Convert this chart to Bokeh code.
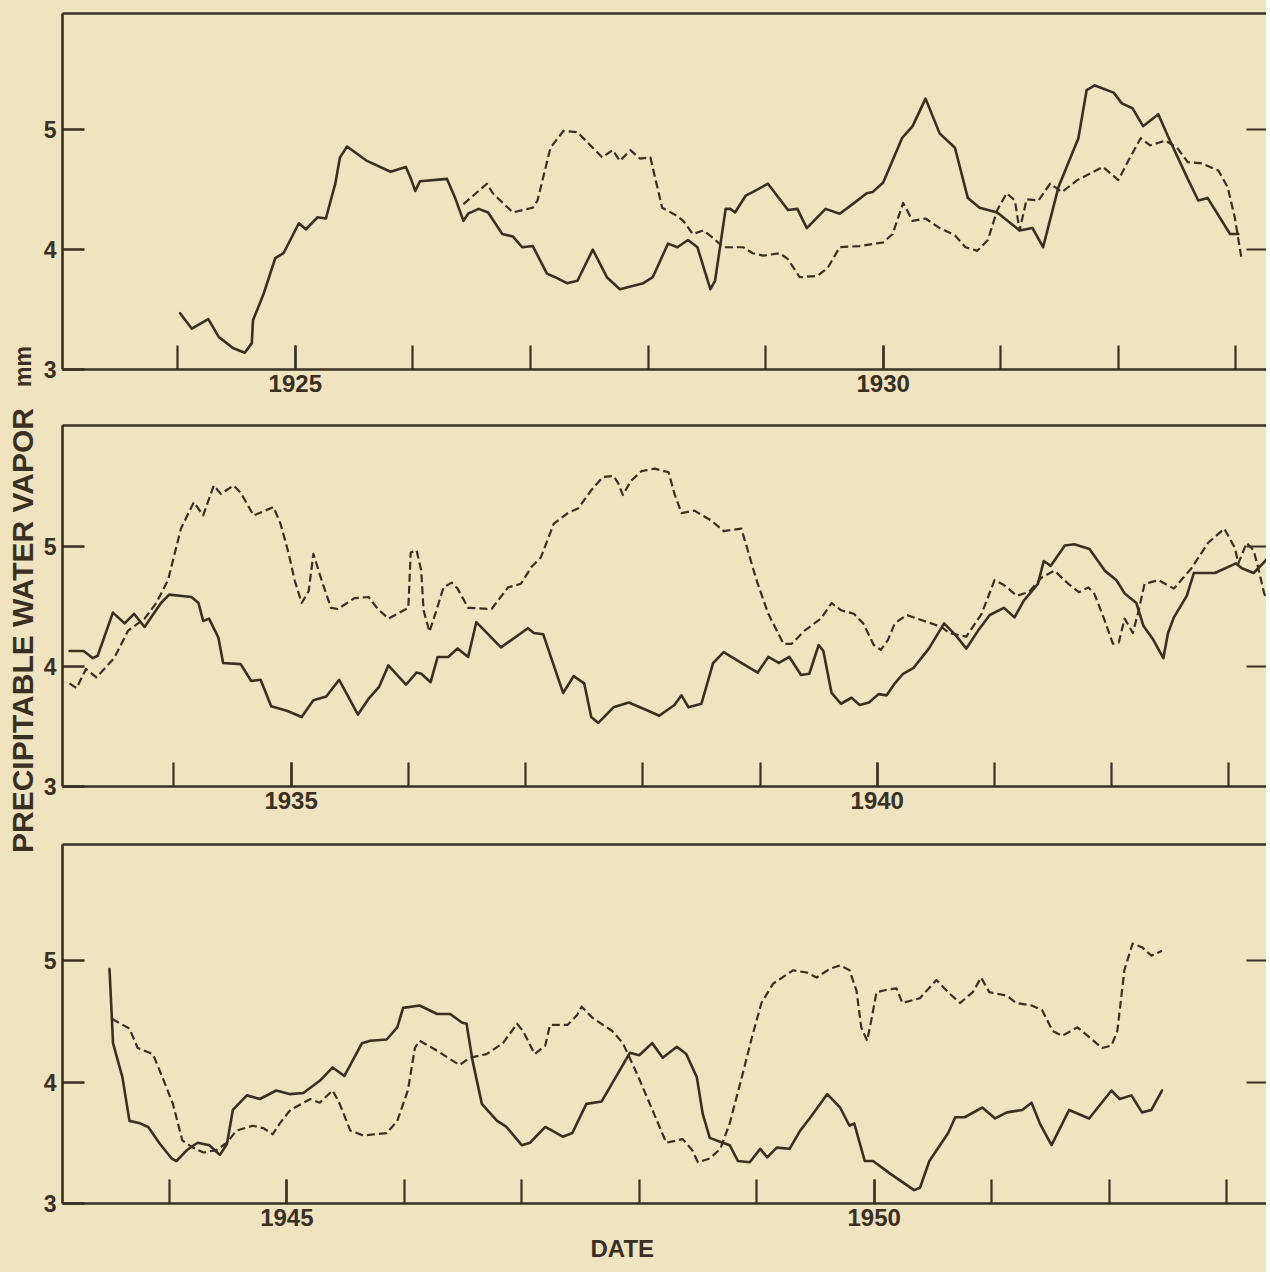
import math
from bokeh.plotting import figure
from bokeh.layouts import row, column
from bokeh.models import Range1d, FixedTicker, LinearAxis, Label, Title
from bokeh.embed import file_html
from bokeh.resources import INLINE

# ---------------- data (decimal years, precipitable water vapor in mm) ----------------
p1_solid_x = [1924.02, 1924.12, 1924.26, 1924.35, 1924.47, 1924.57, 1924.63, 1924.64, 1924.73, 1924.83,
              1924.90, 1925.03, 1925.09, 1925.19, 1925.26, 1925.34, 1925.38, 1925.44, 1925.61, 1925.81,
              1925.94, 1925.98, 1926.02, 1926.06, 1926.29, 1926.36, 1926.43, 1926.47, 1926.56, 1926.64,
              1926.76, 1926.85, 1926.93, 1927.02, 1927.14, 1927.21, 1927.31, 1927.40, 1927.53, 1927.65,
              1927.76, 1927.96, 1928.04, 1928.17, 1928.25, 1928.34, 1928.42, 1928.53, 1928.57, 1928.66,
              1928.70, 1928.74, 1928.83, 1928.89, 1929.02, 1929.19, 1929.27, 1929.35, 1929.51, 1929.63,
              1929.74, 1929.86, 1929.91, 1930.00, 1930.16, 1930.25, 1930.36, 1930.48, 1930.61, 1930.72,
              1930.82, 1930.97, 1931.16, 1931.27, 1931.36, 1931.49, 1931.66, 1931.73, 1931.80, 1931.96,
              1932.03, 1932.12, 1932.21, 1932.34, 1932.42, 1932.59, 1932.68, 1932.76, 1932.95, 1933.02]
p1_solid_y = [3.47, 3.34, 3.42, 3.27, 3.18, 3.14, 3.22, 3.41, 3.63, 3.93,
              3.97, 4.22, 4.17, 4.27, 4.26, 4.55, 4.77, 4.86, 4.74, 4.65,
              4.69, 4.60, 4.49, 4.57, 4.59, 4.43, 4.24, 4.30, 4.34, 4.31,
              4.13, 4.11, 4.02, 4.03, 3.80, 3.77, 3.72, 3.74, 4.00, 3.77,
              3.67, 3.72, 3.77, 4.05, 4.02, 4.08, 4.02, 3.67, 3.74, 4.34,
              4.34, 4.31, 4.45, 4.48, 4.55, 4.33, 4.34, 4.18, 4.34, 4.30,
              4.38, 4.47, 4.48, 4.56, 4.93, 5.03, 5.26, 4.97, 4.85, 4.43,
              4.35, 4.31, 4.16, 4.18, 4.02, 4.52, 4.93, 5.33, 5.37, 5.31,
              5.22, 5.18, 5.03, 5.13, 4.95, 4.59, 4.41, 4.43, 4.13, 4.13]

p1_dash_x = [1926.43, 1926.63, 1926.68, 1926.85, 1927.02, 1927.06, 1927.17, 1927.28, 1927.40, 1927.53,
             1927.61, 1927.70, 1927.76, 1927.85, 1927.93, 1928.02, 1928.06, 1928.12, 1928.25, 1928.30,
             1928.38, 1928.47, 1928.55, 1928.64, 1928.81, 1928.89, 1928.98, 1929.12, 1929.19, 1929.29,
             1929.44, 1929.53, 1929.63, 1929.80, 1930.00, 1930.08, 1930.17, 1930.25, 1930.36, 1930.48,
             1930.61, 1930.70, 1930.80, 1930.89, 1930.97, 1931.05, 1931.12, 1931.16, 1931.22, 1931.32,
             1931.42, 1931.52, 1931.65, 1931.87, 1932.00, 1932.10, 1932.19, 1932.27, 1932.40, 1932.50,
             1932.59, 1932.71, 1932.85, 1932.93, 1932.99, 1933.05]
p1_dash_y = [4.38, 4.55, 4.47, 4.31, 4.35, 4.41, 4.85, 4.99, 4.98, 4.85,
             4.77, 4.83, 4.74, 4.83, 4.76, 4.77, 4.60, 4.35, 4.28, 4.24,
             4.13, 4.16, 4.10, 4.02, 4.02, 3.97, 3.95, 3.97, 3.92, 3.77,
             3.78, 3.85, 4.02, 4.03, 4.06, 4.13, 4.39, 4.24, 4.26, 4.18,
             4.12, 4.02, 3.99, 4.08, 4.33, 4.47, 4.41, 4.16, 4.42, 4.41,
             4.55, 4.48, 4.58, 4.69, 4.58, 4.77, 4.93, 4.87, 4.91, 4.85,
             4.73, 4.72, 4.66, 4.52, 4.27, 3.91]

p2_solid_x = [1933.11, 1933.23, 1933.31, 1933.35, 1933.48, 1933.58, 1933.66, 1933.75, 1933.89, 1933.96,
              1934.15, 1934.21, 1934.25, 1934.30, 1934.38, 1934.42, 1934.57, 1934.66, 1934.74, 1934.83,
              1934.97, 1935.09, 1935.19, 1935.30, 1935.41, 1935.57, 1935.66, 1935.75, 1935.83, 1935.98,
              1936.07, 1936.11, 1936.19, 1936.25, 1936.34, 1936.42, 1936.51, 1936.58, 1936.79, 1937.02,
              1937.07, 1937.15, 1937.32, 1937.41, 1937.50, 1937.56, 1937.62, 1937.75, 1937.88, 1938.05,
              1938.14, 1938.27, 1938.33, 1938.39, 1938.50, 1938.60, 1938.69, 1938.84, 1938.98, 1939.07,
              1939.16, 1939.25, 1939.35, 1939.42, 1939.50, 1939.54, 1939.61, 1939.69, 1939.78, 1939.85,
              1939.93, 1940.01, 1940.08, 1940.15, 1940.22, 1940.31, 1940.44, 1940.57, 1940.67, 1940.76,
              1940.86, 1940.96, 1941.08, 1941.17, 1941.25, 1941.37, 1941.42, 1941.48, 1941.60, 1941.68,
              1941.81, 1941.94, 1942.04, 1942.11, 1942.21, 1942.27, 1942.35, 1942.44, 1942.48, 1942.53,
              1942.64, 1942.70, 1942.88, 1943.06, 1943.11, 1943.21, 1943.29, 1943.36]
p2_solid_y = [4.13, 4.13, 4.07, 4.09, 4.45, 4.36, 4.44, 4.33, 4.53, 4.60,
              4.58, 4.53, 4.38, 4.40, 4.24, 4.03, 4.02, 3.88, 3.89, 3.67,
              3.63, 3.58, 3.72, 3.75, 3.89, 3.60, 3.73, 3.83, 4.01, 3.85,
              3.95, 3.94, 3.87, 4.08, 4.08, 4.15, 4.08, 4.37, 4.16, 4.32,
              4.28, 4.27, 3.78, 3.92, 3.86, 3.58, 3.53, 3.66, 3.70, 3.63,
              3.59, 3.68, 3.76, 3.66, 3.69, 4.03, 4.12, 4.03, 3.95, 4.08,
              4.03, 4.08, 3.93, 3.94, 4.18, 4.13, 3.78, 3.69, 3.74, 3.68,
              3.70, 3.77, 3.76, 3.86, 3.94, 3.99, 4.15, 4.36, 4.26, 4.15,
              4.30, 4.43, 4.49, 4.41, 4.55, 4.69, 4.88, 4.84, 5.01, 5.02,
              4.98, 4.80, 4.72, 4.61, 4.53, 4.34, 4.23, 4.07, 4.28, 4.41,
              4.59, 4.78, 4.78, 4.86, 4.82, 4.78, 4.86, 4.94]

p2_dash_x = [1933.11, 1933.17, 1933.25, 1933.34, 1933.49, 1933.61, 1933.75, 1933.85, 1933.95, 1934.06,
             1934.17, 1934.25, 1934.34, 1934.40, 1934.51, 1934.57, 1934.68, 1934.85, 1934.91, 1934.98,
             1935.03, 1935.09, 1935.15, 1935.19, 1935.26, 1935.34, 1935.40, 1935.54, 1935.66, 1935.74,
             1935.83, 1936.00, 1936.02, 1936.07, 1936.11, 1936.13, 1936.18, 1936.24, 1936.30, 1936.37,
             1936.42, 1936.51, 1936.71, 1936.85, 1936.96, 1937.05, 1937.13, 1937.24, 1937.36, 1937.45,
             1937.56, 1937.66, 1937.75, 1937.79, 1937.83, 1937.90, 1937.99, 1938.10, 1938.22, 1938.27,
             1938.33, 1938.44, 1938.58, 1938.69, 1938.84, 1938.88, 1938.97, 1939.07, 1939.20, 1939.27,
             1939.38, 1939.52, 1939.61, 1939.69, 1939.80, 1939.88, 1939.97, 1940.03, 1940.09, 1940.15,
             1940.25, 1940.40, 1940.55, 1940.61, 1940.76, 1940.89, 1941.00, 1941.08, 1941.19, 1941.29,
             1941.40, 1941.51, 1941.63, 1941.72, 1941.80, 1941.85, 1941.93, 1942.01, 1942.06, 1942.11,
             1942.18, 1942.23, 1942.28, 1942.40, 1942.53, 1942.68, 1942.82, 1942.96, 1943.05, 1943.08,
             1943.15, 1943.21, 1943.25, 1943.30, 1943.36]
p2_dash_y = [3.86, 3.82, 3.98, 3.91, 4.07, 4.30, 4.40, 4.53, 4.72, 5.15,
             5.37, 5.26, 5.51, 5.44, 5.51, 5.45, 5.26, 5.33, 5.19, 4.94,
             4.72, 4.53, 4.63, 4.94, 4.72, 4.49, 4.48, 4.57, 4.58, 4.48,
             4.40, 4.49, 4.95, 4.97, 4.80, 4.47, 4.29, 4.47, 4.66, 4.70,
             4.65, 4.49, 4.48, 4.66, 4.69, 4.83, 4.91, 5.19, 5.28, 5.32,
             5.47, 5.58, 5.59, 5.53, 5.43, 5.55, 5.63, 5.65, 5.62, 5.44,
             5.28, 5.30, 5.22, 5.13, 5.15, 5.02, 4.72, 4.44, 4.19, 4.19,
             4.30, 4.40, 4.53, 4.47, 4.44, 4.36, 4.18, 4.14, 4.22, 4.36,
             4.43, 4.38, 4.33, 4.28, 4.25, 4.44, 4.72, 4.68, 4.59, 4.62,
             4.74, 4.80, 4.69, 4.62, 4.66, 4.61, 4.41, 4.19, 4.20, 4.40,
             4.28, 4.47, 4.69, 4.72, 4.65, 4.82, 5.03, 5.15, 4.99, 4.86,
             5.03, 4.97, 4.82, 4.61, 4.47]

p3_solid_x = [1943.49, 1943.51, 1943.52, 1943.60, 1943.66, 1943.75, 1943.82, 1943.92, 1944.02, 1944.06,
              1944.15, 1944.24, 1944.34, 1944.43, 1944.49, 1944.54, 1944.66, 1944.77, 1944.91, 1945.03,
              1945.14, 1945.28, 1945.39, 1945.49, 1945.64, 1945.71, 1945.85, 1945.94, 1945.99, 1946.13,
              1946.28, 1946.39, 1946.49, 1946.53, 1946.58, 1946.66, 1946.79, 1946.87, 1947.00, 1947.07,
              1947.20, 1947.35, 1947.43, 1947.55, 1947.68, 1947.92, 1948.00, 1948.11, 1948.20, 1948.32,
              1948.40, 1948.49, 1948.54, 1948.60, 1948.71, 1948.77, 1948.84, 1948.94, 1949.03, 1949.09,
              1949.17, 1949.28, 1949.37, 1949.45, 1949.60, 1949.71, 1949.79, 1949.83, 1949.92, 1949.99,
              1950.13, 1950.34, 1950.39, 1950.47, 1950.54, 1950.63, 1950.69, 1950.77, 1950.92, 1951.03,
              1951.13, 1951.26, 1951.34, 1951.41, 1951.51, 1951.66, 1951.83, 1952.02, 1952.09, 1952.19,
              1952.28, 1952.36, 1952.45]
p3_solid_y = [4.93, 4.53, 4.32, 4.04, 3.68, 3.66, 3.63, 3.49, 3.37, 3.35,
              3.44, 3.50, 3.48, 3.40, 3.49, 3.77, 3.89, 3.86, 3.93, 3.90,
              3.91, 4.01, 4.12, 4.05, 4.32, 4.34, 4.35, 4.45, 4.61, 4.63,
              4.56, 4.56, 4.49, 4.48, 4.18, 3.82, 3.68, 3.63, 3.48, 3.50,
              3.63, 3.55, 3.58, 3.82, 3.84, 4.24, 4.22, 4.32, 4.20, 4.29,
              4.23, 4.04, 3.74, 3.54, 3.50, 3.48, 3.35, 3.34, 3.45, 3.38,
              3.46, 3.45, 3.60, 3.70, 3.90, 3.79, 3.64, 3.66, 3.35, 3.35,
              3.25, 3.11, 3.13, 3.35, 3.45, 3.58, 3.71, 3.71, 3.79, 3.70,
              3.75, 3.77, 3.83, 3.66, 3.48, 3.77, 3.70, 3.93, 3.86, 3.89,
              3.75, 3.77, 3.93]

p3_dash_x = [1943.51, 1943.66, 1943.73, 1943.86, 1943.94, 1944.03, 1944.11, 1944.20, 1944.29, 1944.40,
             1944.49, 1944.57, 1944.71, 1944.80, 1944.88, 1944.94, 1945.03, 1945.20, 1945.28, 1945.39,
             1945.45, 1945.54, 1945.65, 1945.85, 1945.94, 1946.03, 1946.09, 1946.13, 1946.24, 1946.47,
             1946.56, 1946.70, 1946.84, 1946.96, 1947.01, 1947.11, 1947.20, 1947.24, 1947.39, 1947.47,
             1947.51, 1947.60, 1947.77, 1947.86, 1947.98, 1948.09, 1948.23, 1948.37, 1948.45, 1948.50,
             1948.60, 1948.69, 1948.77, 1948.86, 1948.96, 1949.04, 1949.14, 1949.31, 1949.43, 1949.51,
             1949.62, 1949.71, 1949.79, 1949.85, 1949.89, 1949.94, 1949.98, 1950.02, 1950.11, 1950.19,
             1950.24, 1950.39, 1950.53, 1950.64, 1950.73, 1950.84, 1950.91, 1950.98, 1951.13, 1951.21,
             1951.34, 1951.43, 1951.52, 1951.60, 1951.73, 1951.83, 1951.94, 1952.02, 1952.07, 1952.13,
             1952.20, 1952.28, 1952.36, 1952.45]
p3_dash_y = [4.52, 4.44, 4.28, 4.23, 4.04, 3.82, 3.52, 3.46, 3.42, 3.44,
             3.50, 3.60, 3.64, 3.62, 3.57, 3.66, 3.77, 3.86, 3.83, 3.93,
             3.82, 3.60, 3.56, 3.58, 3.68, 3.93, 4.28, 4.34, 4.28, 4.14,
             4.20, 4.23, 4.32, 4.48, 4.42, 4.23, 4.30, 4.47, 4.47, 4.55,
             4.62, 4.53, 4.42, 4.32, 4.07, 3.82, 3.50, 3.53, 3.44, 3.34,
             3.37, 3.45, 3.66, 3.99, 4.37, 4.65, 4.81, 4.92, 4.90, 4.86,
             4.93, 4.96, 4.92, 4.75, 4.45, 4.34, 4.53, 4.74, 4.76, 4.77,
             4.65, 4.69, 4.84, 4.73, 4.65, 4.74, 4.86, 4.74, 4.71, 4.65,
             4.63, 4.59, 4.42, 4.38, 4.45, 4.37, 4.28, 4.30, 4.42, 4.92,
             5.14, 5.11, 5.04, 5.08]

p1_years_labeled = [1925, 1930]
p1_years_all = [1924, 1925, 1926, 1927, 1928, 1929, 1930, 1931, 1932, 1933]
p2_years_labeled = [1935, 1940]
p2_years_all = [1934, 1935, 1936, 1937, 1938, 1939, 1940, 1941, 1942, 1943]
p3_years_labeled = [1945, 1950]
p3_years_all = [1944, 1945, 1946, 1947, 1948, 1949, 1950, 1951, 1952, 1953]
y_ticks = [3, 4, 5]
right_ticks = [4, 5]

# ---------------- styling ----------------
BG = "#f0e3bf"
INK = "#392f22"
FONT = "Liberation Sans"
FRAME_W = 1204
TITLE_W = 40


def make_panel(sx, sy, dx, dy, xr, yr, fh, bt, bb, major, minor):
    p = figure(frame_width=FRAME_W, frame_height=fh,
               x_range=Range1d(*xr), y_range=Range1d(*yr),
               output_backend="svg", toolbar_location=None,
               min_border_left=22, min_border_right=0,
               min_border_top=bt, min_border_bottom=bb,
               background_fill_color=BG, border_fill_color=BG,
               outline_line_color=None)
    p.grid.visible = False

    xa = p.xaxis[0]
    xa.ticker = FixedTicker(ticks=major, minor_ticks=minor)
    xa.major_tick_in = 24
    xa.major_tick_out = 0
    xa.minor_tick_in = 24
    xa.minor_tick_out = 0
    xa.major_tick_line_width = 2.2
    xa.minor_tick_line_width = 2.2
    xa.major_tick_line_color = INK
    xa.minor_tick_line_color = INK
    xa.axis_line_width = 2.6
    xa.axis_line_color = INK
    xa.major_label_text_font = FONT
    xa.major_label_text_font_style = "bold"
    xa.major_label_text_font_size = "24px"
    xa.major_label_text_color = INK
    xa.major_label_standoff = 5

    ya = p.yaxis[0]
    ya.ticker = FixedTicker(ticks=y_ticks, minor_ticks=[])
    ya.major_tick_in = 22
    ya.major_tick_out = 0
    ya.minor_tick_in = 0
    ya.minor_tick_out = 0
    ya.major_tick_line_width = 2.4
    ya.major_tick_line_color = INK
    ya.axis_line_width = 2.6
    ya.axis_line_color = INK
    ya.major_label_text_font = FONT
    ya.major_label_text_font_style = "bold"
    ya.major_label_text_font_size = "23px"
    ya.major_label_text_color = INK
    ya.major_label_standoff = 6

    # top edge of the box: an axis with a line only
    top = LinearAxis(ticker=FixedTicker(ticks=[], minor_ticks=[]),
                     major_tick_in=0, major_tick_out=0, minor_tick_in=0, minor_tick_out=0,
                     axis_line_width=2.6, axis_line_color=INK, major_label_standoff=0)
    p.add_layout(top, "above")

    # right edge: inward ticks only (minor ticks carry no labels)
    right = LinearAxis(ticker=FixedTicker(ticks=[], minor_ticks=right_ticks),
                       major_tick_in=0, major_tick_out=0, minor_tick_in=20, minor_tick_out=0,
                       minor_tick_line_width=2.2, minor_tick_line_color=INK,
                       axis_line_color=None, major_label_standoff=0)
    p.add_layout(right, "right")

    p.line(sx, sy, line_color=INK, line_width=2.6, line_join="round", line_cap="round")
    p.line(dx, dy, line_color=INK, line_width=2.2, line_dash="8 4", line_join="round")
    return p


p1 = make_panel(p1_solid_x, p1_solid_y, p1_dash_x, p1_dash_y,
                (1923.02, 1933.26), (3, 5.97), 356, 13, 34, p1_years_labeled, p1_years_all)
p2 = make_panel(p2_solid_x, p2_solid_y, p2_dash_x, p2_dash_y,
                (1933.05, 1943.32), (3, 6.01), 361, 22, 34, p2_years_labeled, p2_years_all)
p3 = make_panel(p3_solid_x, p3_solid_y, p3_dash_x, p3_dash_y,
                (1943.09, 1953.34), (3, 5.955), 359, 24, 69, p3_years_labeled, p3_years_all)

p3.add_layout(Title(text="DATE", align="left", offset=528, standoff=8,
                    text_font=FONT, text_font_style="bold", text_font_size="24px",
                    text_color=INK), "below")

TOTAL_H = (13 + 356 + 34) + (22 + 361 + 34) + (24 + 359 + 69)
t = figure(width=TITLE_W, height=TOTAL_H, x_range=Range1d(0, TITLE_W), y_range=Range1d(0, TOTAL_H),
           min_border=0, toolbar_location=None, output_backend="svg",
           background_fill_color=BG, border_fill_color=BG, outline_line_color=None)
t.axis.visible = False
t.grid.visible = False
t.add_layout(Label(x=22, y=TOTAL_H - 630, text="PRECIPITABLE WATER VAPOR", angle=math.pi / 2,
                   text_align="center", text_baseline="middle", text_font=FONT,
                   text_font_style="bold", text_font_size="30px", text_color=INK))
t.add_layout(Label(x=22, y=TOTAL_H - 366, text="mm", angle=math.pi / 2,
                   text_align="center", text_baseline="middle", text_font=FONT,
                   text_font_style="bold", text_font_size="23px", text_color=INK))

layout = row(t, column(p1, p2, p3, spacing=0), spacing=0)
layout.styles = {"background-color": BG}

open("out.html", "w").write(file_html(layout, INLINE))
